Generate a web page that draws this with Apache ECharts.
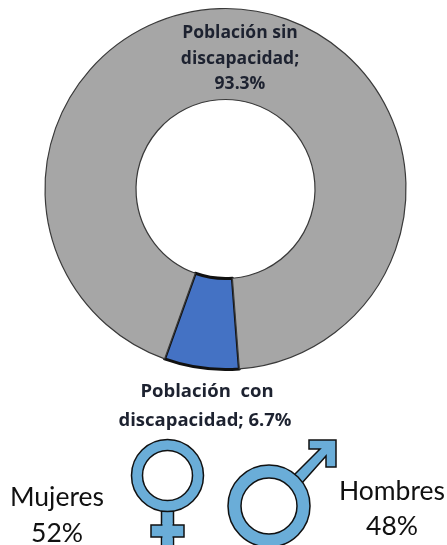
<!DOCTYPE html>
<html>
<head>
<meta charset="utf-8">
<style>
html,body{margin:0;padding:0;background:#fff;overflow:hidden}
#ring{width:447px;height:545px}
</style>
<script src="https://cdn.jsdelivr.net/npm/echarts@6/dist/echarts.min.js"></script>
</head>
<body>
<div id="ring"></div>
<script>
const categories = ['Población con discapacidad', 'Población sin discapacidad'];
const shares = [6.7, 93.3];
const sliceColors = ['#4472C4', '#A6A6A6'];
const sexLabels = ['Mujeres', 'Hombres'];
const sexShares = ['52%', '48%'];

const symbolBlue = '#6AADD8';
const labelFont = 'bold 18.5px "Open Sans"';
const topLabelFont = 'bold 17.5px "Open Sans"';
const labelColor = '#1d2230';

const chart = echarts.init(document.getElementById('ring'));

const textAt = (x, y, text, font, fill) => ({
    type: 'text', x: x, y: y, z: 10,
    style: { text: text, font: font, fill: fill, align: 'center', verticalAlign: 'middle' }
});

const option = {
    backgroundColor: '#fff',
    animation: false,
    series: [{
        type: 'pie',
        center: [225.5, 189],
        radius: [89.5, 180.5],
        startAngle: -85.6,
        clockwise: true,
        silent: true,
        label: { show: false },
        labelLine: { show: false },
        data: [{
            name: categories[0],
            value: shares[0],
            itemStyle: { color: sliceColors[0], borderColor: '#111', borderWidth: 3 }
        }, {
            name: categories[1],
            value: shares[1],
            itemStyle: { color: sliceColors[1], borderColor: '#3a3a3a', borderWidth: 1.2 }
        }]
    }],
    graphic: [
        // simbolo mujer
        { type: 'rect', shape: { x: 161.5, y: 505, width: 12, height: 45 }, style: { fill: symbolBlue, stroke: '#111', lineWidth: 1.5 } },
        { type: 'rect', shape: { x: 151, y: 525, width: 33, height: 12 }, style: { fill: symbolBlue, stroke: '#111', lineWidth: 1.5 } },
        { type: 'rect', shape: { x: 162.5, y: 523, width: 10, height: 24 }, style: { fill: symbolBlue } },
        { type: 'circle', shape: { cx: 167.5, cy: 475.5, r: 36 }, style: { fill: symbolBlue, stroke: '#111', lineWidth: 1.5 } },
        { type: 'circle', shape: { cx: 167.5, cy: 475.5, r: 25 }, style: { fill: '#fff', stroke: '#111', lineWidth: 1.5 } },
        // simbolo hombre
        { type: 'polygon', shape: { points: [[293, 476], [320, 449], [309, 449], [309, 440], [336, 440], [336, 467], [326, 467], [326, 456], [302, 483]] }, style: { fill: symbolBlue, stroke: '#111', lineWidth: 1.5 } },
        { type: 'circle', shape: { cx: 269, cy: 506, r: 41 }, style: { fill: symbolBlue, stroke: '#111', lineWidth: 1.5 } },
        { type: 'circle', shape: { cx: 269, cy: 506, r: 28 }, style: { fill: '#fff', stroke: '#111', lineWidth: 1.5 } },
        // etiquetas del anillo
        textAt(240, 33, 'Población sin', topLabelFont, labelColor),
        textAt(240, 59, 'discapacidad;', topLabelFont, labelColor),
        textAt(240, 84, shares[1] + '%', topLabelFont, labelColor),
        textAt(207, 392, 'Población  con', labelFont, labelColor),
        textAt(205, 421, 'discapacidad; ' + shares[0] + '%', labelFont, labelColor),
        // textos
        textAt(57, 497, sexLabels[0], '26.5px Lato', '#111'),
        textAt(57, 533, sexShares[0], '26.5px Lato', '#111'),
        textAt(392, 491, sexLabels[1], '26.5px Lato', '#111'),
        textAt(392, 526, sexShares[1], '26.5px Lato', '#111')
    ]
};

chart.setOption(option);
</script>
</body>
</html>
